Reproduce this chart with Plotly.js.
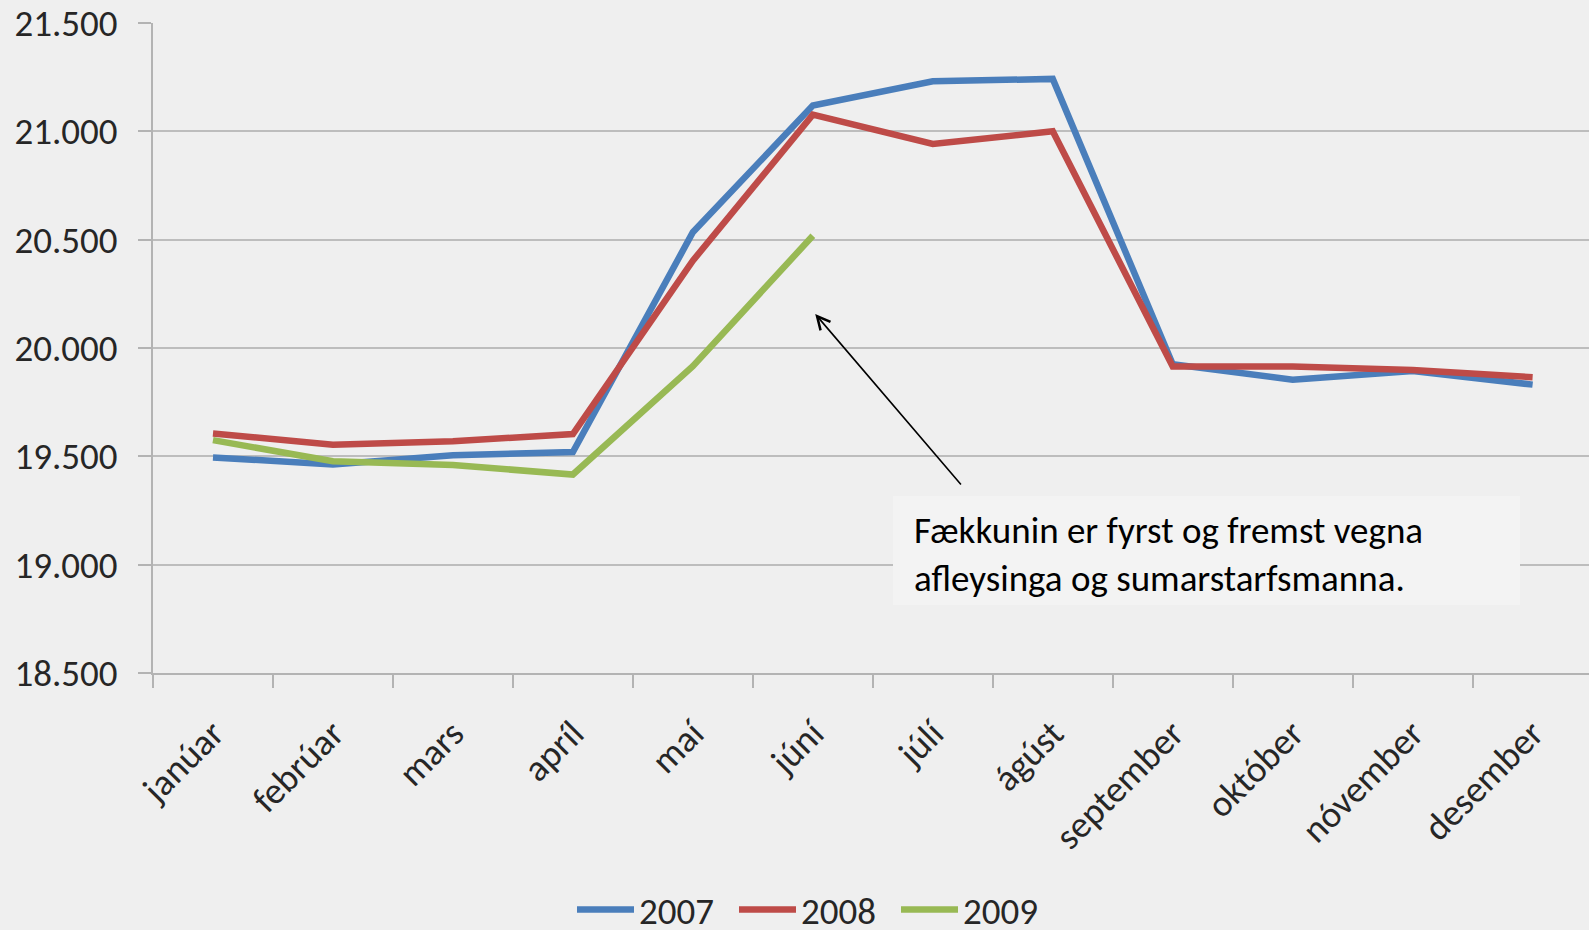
<!DOCTYPE html>
<html>
<head>
<meta charset="utf-8">
<script src="https://cdn.plot.ly/plotly-3.0.1.min.js"></script>
<style>
  html, body { margin: 0; padding: 0; background: #efefef; }
  #chart { width: 1589px; height: 930px; }
</style>
</head>
<body>
<div id="chart"></div>
<script>
const months = ["janúar", "febrúar", "mars", "apríl", "maí", "júní", "júlí", "ágúst", "september", "október", "nóvember", "desember"];
const series2007 = [19495, 19462, 19505, 19520, 20534, 21119, 21231, 21242, 19925, 19854, 19894, 19831];
const series2008 = [19605, 19554, 19570, 19603, 20403, 21077, 20942, 21000, 19915, 19915, 19898, 19865];
const series2009 = [19575, 19477, 19460, 19416, 19916, 20518, null, null, null, null, null, null];
const seriesNames = ["2007", "2008", "2009"];
const yTickVals = [18500, 19000, 19500, 20000, 20500, 21000, 21500];
const yTickText = ["18.500", "19.000", "19.500", "20.000", "20.500", "21.000", "21.500"];
const noteText = "Fækkunin er fyrst og fremst vegna<br>afleysinga og sumarstarfsmanna.";

const FONT = "Carlito, Lato, 'Open Sans', sans-serif";
const colors = ["#4a7ebb", "#be4b48", "#98b954"];
const allSeries = [series2007, series2008, series2009];

const traces = allSeries.map((vals, i) => ({
  type: "scatter",
  mode: "lines",
  x: months,
  y: vals,
  name: seriesNames[i],
  line: { color: colors[i], width: 6.5 },
  connectgaps: false,
  hoverinfo: "x+y+name"
}));

const L = 153, T = 23, W = 1589, H = 930, B = 257;
const plotW = W - L, plotH = H - T - B;
function px2paperX(px) { return (px - L) / plotW; }
function px2paperY(py) { return (H - B - py) / plotH; }

const layout = {
  width: W,
  height: H,
  paper_bgcolor: "#efefef",
  plot_bgcolor: "#efefef",
  margin: { l: L, r: 0, t: T, b: B, pad: 0, autoexpand: false },
  font: { family: FONT, color: "#262626", size: 37 },
  showlegend: true,
  legend: {
    orientation: "h",
    x: px2paperX(572),
    xanchor: "left",
    y: px2paperY(910),
    yanchor: "middle",
    itemwidth: 57,
    entrywidth: 90,
    entrywidthmode: "pixels",
    font: { family: FONT, size: 37, color: "#262626" },
    bgcolor: "rgba(0,0,0,0)",
    itemclick: false
  },
  xaxis: {
    type: "category",
    range: [-0.5, 11.47],
    showgrid: false,
    showline: true,
    linecolor: "#b3b3b3",
    linewidth: 2,
    ticks: "outside",
    tickson: "boundaries",
    ticklen: 13,
    tickwidth: 2,
    tickcolor: "#b3b3b3",
    tickangle: -45,
    tickfont: { family: FONT, size: 37, color: "#262626" },
    ticklabelstandoff: 22,
    automargin: false,
    zeroline: false,
    fixedrange: true
  },
  yaxis: {
    range: [18500, 21500],
    tickvals: yTickVals,
    ticktext: yTickText,
    showgrid: true,
    gridcolor: "#bdbdbd",
    gridwidth: 2,
    showline: true,
    linecolor: "#b3b3b3",
    linewidth: 2,
    ticks: "outside",
    ticklen: 13,
    tickwidth: 2,
    tickcolor: "#b3b3b3",
    tickfont: { family: FONT, size: 37, color: "#262626" },
    ticklabelstandoff: 13,
    automargin: false,
    zeroline: false,
    fixedrange: true
  },
  shapes: [
    {
      type: "rect",
      xref: "paper", yref: "paper",
      x0: px2paperX(893), x1: px2paperX(1520),
      y0: px2paperY(605), y1: px2paperY(496),
      fillcolor: "#f3f3f3",
      line: { width: 0 },
      layer: "above"
    }
  ],
  annotations: [
    {
      xref: "x", yref: "y",
      x: 5.02, y: 20157,
      axref: "pixel", ayref: "pixel",
      ax: 147, ay: 172,
      text: "",
      showarrow: true,
      arrowhead: 5,
      arrowsize: 1.6,
      arrowwidth: 1.6,
      arrowcolor: "#000000"
    },
    {
      xref: "paper", yref: "paper",
      x: px2paperX(912), y: px2paperY(554),
      xanchor: "left", yanchor: "middle",
      align: "left",
      showarrow: false,
      text: noteText,
      font: { family: FONT, size: 37, color: "#000000" }
    }
  ]
};

Plotly.newPlot("chart", traces, layout, { displayModeBar: false });
</script>
</body>
</html>
